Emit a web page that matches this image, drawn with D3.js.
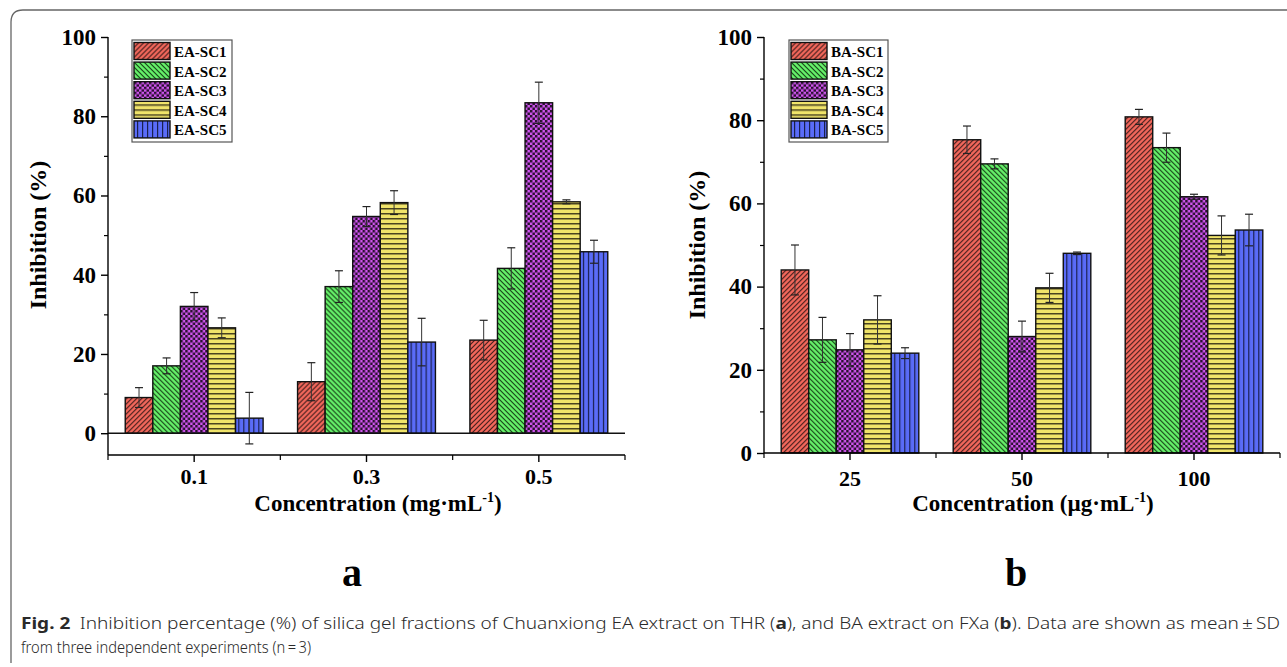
<!DOCTYPE html>
<html>
<head>
<meta charset="utf-8">
<script src="https://cdn.jsdelivr.net/npm/d3@7"></script>
<style>
  body { margin: 0; background: #fff; }
  svg { display: block; }
</style>
</head>
<body>
<svg id="chart" width="1287" height="667"></svg>
<script>
// ---- data ----
var seriesA = ["EA-SC1", "EA-SC2", "EA-SC3", "EA-SC4", "EA-SC5"];
var seriesB = ["BA-SC1", "BA-SC2", "BA-SC3", "BA-SC4", "BA-SC5"];
var catsA = ["0.1", "0.3", "0.5"];
var catsB = ["25", "50", "100"];
// values[category][series]
var valuesA = [
  [9.0, 17.0, 32.0, 26.6, 3.8],
  [13.0, 37.0, 54.7, 58.2, 23.0],
  [23.5, 41.6, 83.4, 58.4, 45.8]
];
var errA = [
  [2.5, 2.0, 3.5, 2.5, 6.5],
  [4.8, 4.0, 2.5, 3.0, 6.0],
  [5.0, 5.2, 5.2, 0.5, 2.9]
];
var valuesB = [
  [44.0, 27.2, 24.8, 32.0, 24.0],
  [75.3, 69.5, 28.0, 39.7, 48.0],
  [80.8, 73.4, 61.6, 52.3, 53.6]
];
var errB = [
  [6.0, 5.4, 3.9, 5.8, 1.3],
  [3.3, 1.2, 3.7, 3.5, 0.3],
  [1.8, 3.5, 0.6, 4.7, 3.8]
];
var yTicks = [0, 20, 40, 60, 80, 100];
var yMinor = [10, 30, 50, 70, 90];

var svg = d3.select("#chart");
var serif = "'Liberation Serif', 'Times New Roman', serif";

// ---- hatch patterns ----
var defs = svg.append("defs");
var fills = ["#f4685c", "#66f26a", "#cf55ee", "#f0e46a", "#5a6cf8"];

function pat(id, size, bg) {
  var p = defs.append("pattern").attr("id", id)
    .attr("patternUnits", "userSpaceOnUse")
    .attr("width", size).attr("height", size);
  p.append("rect").attr("width", size).attr("height", size).attr("fill", bg);
  return p;
}
var p0 = pat("p0", 5, fills[0]);
p0.append("path").attr("d", "M-1,1 L1,-1 M0,5 L5,0 M4,6 L6,4")
  .attr("stroke", "#3a1a18").attr("stroke-width", 1.1);
var p1 = pat("p1", 5, fills[1]);
p1.append("path").attr("d", "M-1,4 L1,6 M0,0 L5,5 M4,-1 L6,1")
  .attr("stroke", "#143a14").attr("stroke-width", 1.1);
var p2 = pat("p2", 5, fills[2]);
p2.append("rect").attr("x", 0).attr("y", 0).attr("width", 2.5).attr("height", 2.5).attr("fill", "#2a1030");
p2.append("rect").attr("x", 2.5).attr("y", 2.5).attr("width", 2.5).attr("height", 2.5).attr("fill", "#2a1030");
var p3 = pat("p3", 5, fills[3]);
p3.append("rect").attr("x", 0).attr("y", 3).attr("width", 5).attr("height", 1.5).attr("fill", "#4a4420");
var p4 = pat("p4", 5, fills[4]);
p4.append("rect").attr("x", 3).attr("y", 0).attr("width", 1.2).attr("height", 5).attr("fill", "#1a2050");

// ---- outer frame ----
svg.append("path")
  .attr("d", "M11,663 Q11,660 11,656 L11,22 Q11,10 23,10 L1287,10")
  .attr("fill", "none").attr("stroke", "#666").attr("stroke-width", 1.3);

function panel(opt) {
  var g = svg.append("g");
  var x = d3.scaleBand().domain(opt.cats).range([opt.x0, opt.x1])
    .paddingInner(0.2).paddingOuter(0.1);
  var xs = d3.scaleBand().domain(d3.range(5)).range([0, x.bandwidth()]);
  var y = d3.scaleLinear().domain(opt.ydom).range([opt.yBottom, opt.yTop]);

  // bars
  opt.cats.forEach(function(c, ci) {
    var grp = g.append("g").attr("transform", "translate(" + x(c) + ",0)");
    grp.selectAll("rect").data(opt.values[ci]).enter().append("rect")
      .attr("x", function(d, i) { return xs(i); })
      .attr("y", function(d) { return y(d); })
      .attr("width", xs.bandwidth())
      .attr("height", function(d) { return y(0) - y(d); })
      .attr("fill", function(d, i) { return "url(#p" + i + ")"; })
      .attr("stroke", "#111").attr("stroke-width", 1.4);
    // error bars
    var eb = grp.selectAll("g.err").data(opt.values[ci]).enter().append("g").attr("class", "err");
    eb.append("line")
      .attr("x1", function(d, i) { return xs(i) + xs.bandwidth() / 2; })
      .attr("x2", function(d, i) { return xs(i) + xs.bandwidth() / 2; })
      .attr("y1", function(d, i) { return y(d - opt.err[ci][i]); })
      .attr("y2", function(d, i) { return y(d + opt.err[ci][i]); })
      .attr("stroke", "#333").attr("stroke-width", 1);
    [-1, 1].forEach(function(s) {
      eb.append("line")
        .attr("x1", function(d, i) { return xs(i) + xs.bandwidth() / 2 - 4; })
        .attr("x2", function(d, i) { return xs(i) + xs.bandwidth() / 2 + 4; })
        .attr("y1", function(d, i) { return y(d + s * opt.err[ci][i]); })
        .attr("y2", function(d, i) { return y(d + s * opt.err[ci][i]); })
        .attr("stroke", "#222").attr("stroke-width", 1.2);
    });
  });

  // zero line (panel a)
  if (opt.ydom[0] < 0) {
    g.append("line").attr("x1", opt.x0).attr("x2", opt.x1)
      .attr("y1", y(0)).attr("y2", y(0))
      .attr("stroke", "#111").attr("stroke-width", 1.4);
  }

  // y axis
  var ya = g.append("g").attr("transform", "translate(" + opt.x0 + ",0)")
    .call(d3.axisLeft(y).tickValues(yTicks).tickSize(7).tickSizeOuter(0).tickPadding(5));
  ya.select(".domain").attr("d", "M0," + opt.yBottom + "V" + opt.yTop)
    .attr("stroke-width", 1.4);
  ya.selectAll(".tick line").attr("stroke-width", 1.4);
  ya.selectAll("text").attr("font-family", serif).attr("font-weight", "bold")
    .attr("font-size", 23).attr("fill", "#000");
  ya.selectAll(".minor").data(yMinor).enter().append("line").attr("class", "minor")
    .attr("x1", -4).attr("x2", 0)
    .attr("y1", function(d) { return y(d) + 0.5; }).attr("y2", function(d) { return y(d) + 0.5; })
    .attr("stroke", "#000").attr("stroke-width", 1.2);

  // x axis
  var xa = g.append("g").attr("transform", "translate(0," + opt.yBottom + ")")
    .call(d3.axisBottom(x).tickSize(7).tickSizeOuter(0).tickPadding(opt.xPad));
  xa.select(".domain").attr("d", "M" + opt.x0 + ",0H" + opt.x1).attr("stroke-width", 1.4);
  xa.selectAll(".tick line").attr("stroke-width", 1.4);
  xa.selectAll("text").attr("font-family", serif).attr("font-weight", "bold")
    .attr("font-size", 22).attr("fill", "#000");
  xa.selectAll(".minor").data(d3.range(opt.cats.length + 1)).enter().append("line")
    .attr("class", "minor")
    .attr("x1", function(i) { return opt.x0 + i * x.step(); })
    .attr("x2", function(i) { return opt.x0 + i * x.step(); })
    .attr("y1", 0).attr("y2", 5)
    .attr("stroke", "#000").attr("stroke-width", 1.2);

  // axis titles
  g.append("text")
    .attr("transform", "translate(" + opt.yTitleX + "," + opt.yTitleY + ") rotate(-90)")
    .attr("text-anchor", "middle").attr("font-family", serif).attr("font-weight", "bold")
    .attr("font-size", 24).text("Inhibition (%)");
  var xt = g.append("text")
    .attr("x", opt.xTitleX).attr("y", opt.xTitleY)
    .attr("text-anchor", "middle").attr("font-family", serif).attr("font-weight", "bold")
    .attr("font-size", 23);
  xt.append("tspan").text("Concentration (" + opt.unit + "·mL");
  xt.append("tspan").attr("dy", -9).attr("font-size", 14).text("-1");
  xt.append("tspan").attr("dy", 9).text(")");

  // legend
  var lg = g.append("g").attr("transform", "translate(" + opt.legX + ",40)");
  lg.append("rect").attr("width", opt.legW).attr("height", 102)
    .attr("fill", "#fff").attr("stroke", "#555").attr("stroke-width", 1.2);
  var row = lg.selectAll("g.row").data(opt.series).enter().append("g").attr("class", "row")
    .attr("transform", function(d, i) { return "translate(2," + (2.5 + i * 19.6) + ")"; });
  row.append("rect").attr("width", 36).attr("height", 17)
    .attr("fill", function(d, i) { return "url(#p" + i + ")"; })
    .attr("stroke", "#111").attr("stroke-width", 1.4);
  row.append("text").attr("x", 40).attr("y", 14.5)
    .attr("font-family", serif).attr("font-weight", "bold").attr("font-size", 15)
    .text(function(d) { return d; });

  // panel letter
  svg.append("text").attr("x", opt.letterX).attr("y", 586)
    .attr("text-anchor", "middle").attr("font-family", serif).attr("font-weight", "bold")
    .attr("font-size", 40).text(opt.letter);
}

panel({
  cats: catsA, series: seriesA, values: valuesA, err: errA,
  x0: 108, x1: 625, ydom: [-5.5, 100], yTop: 37, yBottom: 455, xPad: 6,
  yTitleX: 46, yTitleY: 235, xTitleX: 378, xTitleY: 511, unit: "mg", legX: 132, legW: 100,
  letter: "a", letterX: 352
});
panel({
  cats: catsB, series: seriesB, values: valuesB, err: errB,
  x0: 764, x1: 1280, ydom: [0, 100], yTop: 37, yBottom: 453, xPad: 10,
  yTitleX: 705, yTitleY: 245, xTitleX: 1033, xTitleY: 511, unit: "µg", legX: 789, legW: 99,
  letter: "b", letterX: 1016
});

// ---- caption (line 1 justified to full width, line 2 condensed like the original face) ----
var cap = svg.append("g").attr("font-family", "'Noto Sans', 'Open Sans', sans-serif")
  .attr("font-size", 16).attr("fill", "#2a2a2a");
var l1 = cap.append("text").attr("x", 21).attr("y", 629)
  .attr("textLength", 1259).attr("lengthAdjust", "spacingAndGlyphs");
l1.append("tspan").attr("font-weight", "bold").text("Fig. 2");
l1.append("tspan").attr("font-weight", 300).text("\u2002Inhibition percentage (%) of silica gel fractions of Chuanxiong EA extract on THR (");
l1.append("tspan").attr("font-weight", "bold").text("a");
l1.append("tspan").attr("font-weight", 300).text("), and BA extract on FXa (");
l1.append("tspan").attr("font-weight", "bold").text("b");
l1.append("tspan").attr("font-weight", 300).text("). Data are shown as mean\u2009\u00b1\u2009SD");
cap.append("text").attr("x", 21).attr("y", 653).attr("font-weight", 300)
  .attr("textLength", 290).attr("lengthAdjust", "spacingAndGlyphs")
  .text("from three independent experiments (n\u2009=\u20093)");
</script>
</body>
</html>
